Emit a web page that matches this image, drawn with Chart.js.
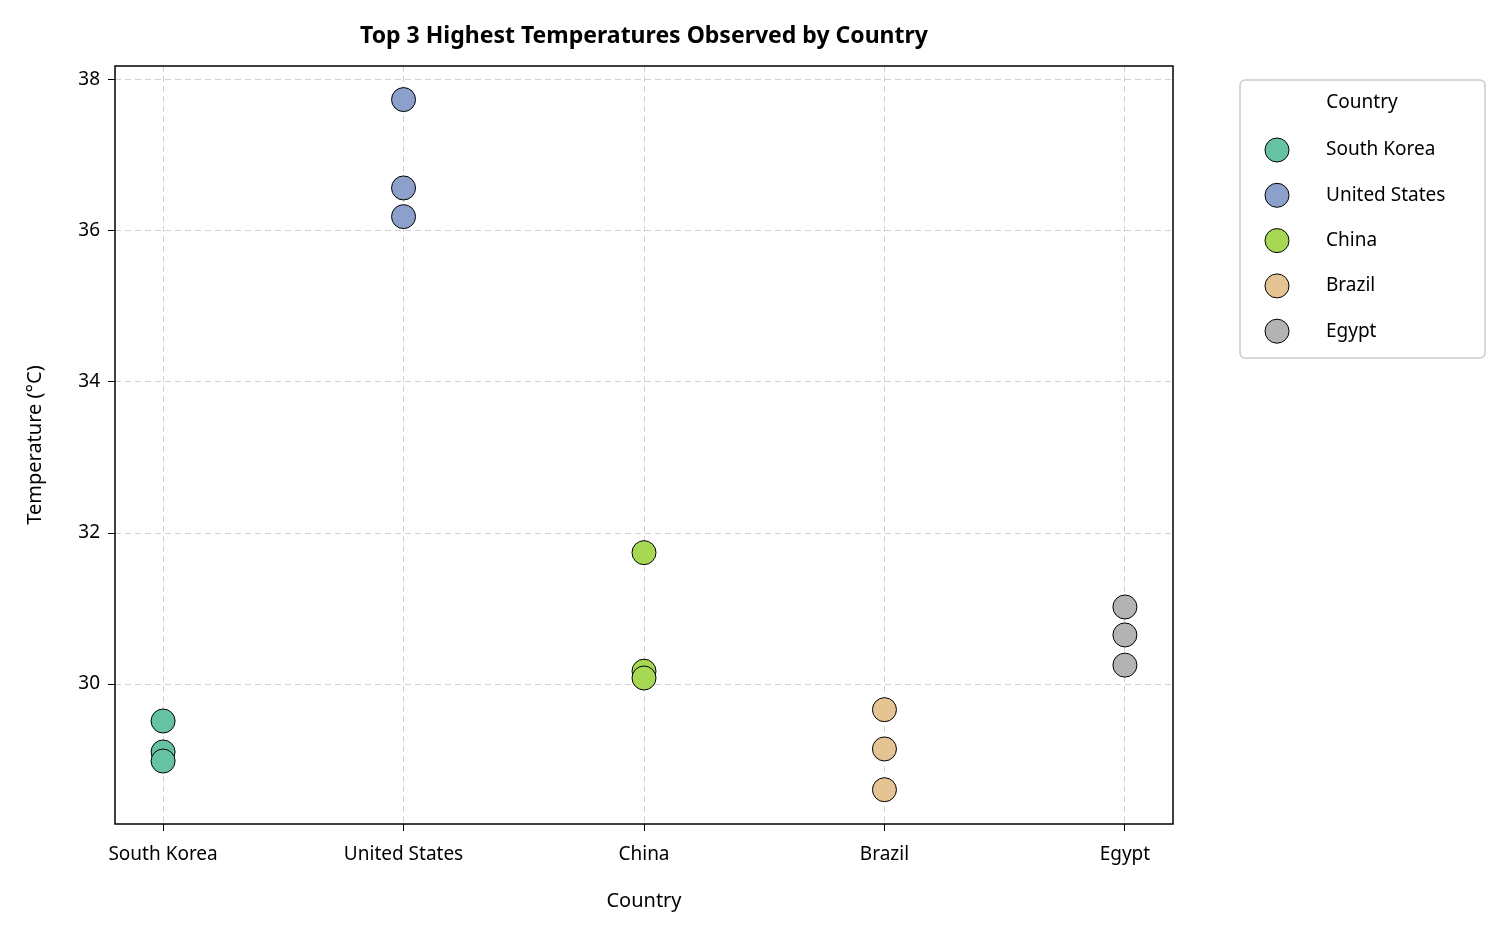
<!DOCTYPE html>
<html><head><meta charset="utf-8">
<script src="https://cdn.jsdelivr.net/npm/chart.js@4"></script>
<style>html,body{margin:0;background:#fff}#c{display:block}</style>
</head><body>
<canvas id="c" width="1504" height="940"></canvas>
<script>
const countries = ['South Korea', 'United States', 'China', 'Brazil', 'Egypt'];
const temps = [
  [29.51, 29.10, 28.98],
  [37.74, 36.57, 36.19],
  [31.74, 30.17, 30.08],
  [29.66, 29.14, 28.60],
  [31.02, 30.65, 30.25]
];
const colors = ['#66c2a5', '#8da0cb', '#a6d854', '#e5c494', '#b3b3b3'];
const yTicks = [30, 32, 34, 36, 38];
const FONT = '"Noto Sans", sans-serif';

const datasets = countries.map((c, i) => ({
  label: c,
  data: temps[i].map(v => ({ x: i, y: v })),
  backgroundColor: colors[i],
  borderColor: '#000',
  borderWidth: 1,
  pointRadius: 12,
  pointHoverRadius: 12
}));

const decor = {
  id: 'decor',
  afterDraw(chart) {
    const { ctx, chartArea: a } = chart;
    ctx.save();
    ctx.strokeStyle = '#000'; ctx.lineWidth = 1.5;
    ctx.strokeRect(a.left, a.top, a.right - a.left, a.bottom - a.top);
    ctx.fillStyle = '#000'; ctx.textAlign = 'center'; ctx.textBaseline = 'middle';
    ctx.font = 'bold 23px ' + FONT;
    ctx.fillText('Top 3 Highest Temperatures Observed by Country', (a.left + a.right) / 2, 36);
    ctx.font = '20px ' + FONT;
    ctx.fillText('Country', (a.left + a.right) / 2, 901);
    ctx.save();
    ctx.translate(35, (a.top + a.bottom) / 2); ctx.rotate(-Math.PI / 2);
    ctx.fillText('Temperature (°C)', 0, 0);
    ctx.restore();
    // legend
    const lx = 1240, ly = 80, lw = 245, lh = 278;
    ctx.fillStyle = '#fff'; ctx.strokeStyle = '#ccc'; ctx.lineWidth = 1.5;
    ctx.beginPath(); ctx.roundRect(lx, ly, lw, lh, 5); ctx.fill(); ctx.stroke();
    ctx.fillStyle = '#000'; ctx.font = '19px ' + FONT;
    ctx.fillText('Country', 1362, 103);
    ctx.textAlign = 'left';
    countries.forEach((c, i) => {
      const y = 150 + i * 45.3;
      ctx.beginPath(); ctx.arc(1277, y, 12, 0, Math.PI * 2);
      ctx.fillStyle = colors[i]; ctx.fill();
      ctx.strokeStyle = '#000'; ctx.lineWidth = 1; ctx.stroke();
      ctx.fillStyle = '#000';
      ctx.fillText(c, 1326, y);
    });
    ctx.restore();
  }
};

new Chart(document.getElementById('c'), {
  type: 'scatter',
  data: { datasets },
  options: {
    responsive: false,
    animation: false,
    layout: { padding: { top: 66, right: 331, left: 0, bottom: 0 } },
    plugins: { legend: { display: false }, tooltip: { enabled: false } },
    scales: {
      x: {
        type: 'linear', min: -0.2, max: 4.2,
        afterFit: s => { s.height = 116; },
        afterBuildTicks: s => { s.ticks = countries.map((c, i) => ({ value: i })); },
        ticks: { callback: v => countries[v], color: '#000', font: { size: 19, family: FONT }, padding: 12, autoSkip: false, maxRotation: 0 },
        grid: { color: 'rgba(0,0,0,0.18)', tickColor: '#000', tickLength: 7, drawTicks: true },
        border: { dash: [6, 4], display: false }
      },
      y: {
        min: 28.146, max: 38.185,
        afterFit: s => { s.width = 115; },
        afterBuildTicks: s => { s.ticks = yTicks.map(v => ({ value: v })); },
        ticks: { color: '#000', font: { size: 19, family: FONT }, padding: 8 },
        grid: { color: 'rgba(0,0,0,0.18)', tickColor: '#000', tickLength: 7 },
        border: { dash: [6, 4], display: false }
      }
    }
  },
  plugins: [decor]
});
</script>
</body></html>
